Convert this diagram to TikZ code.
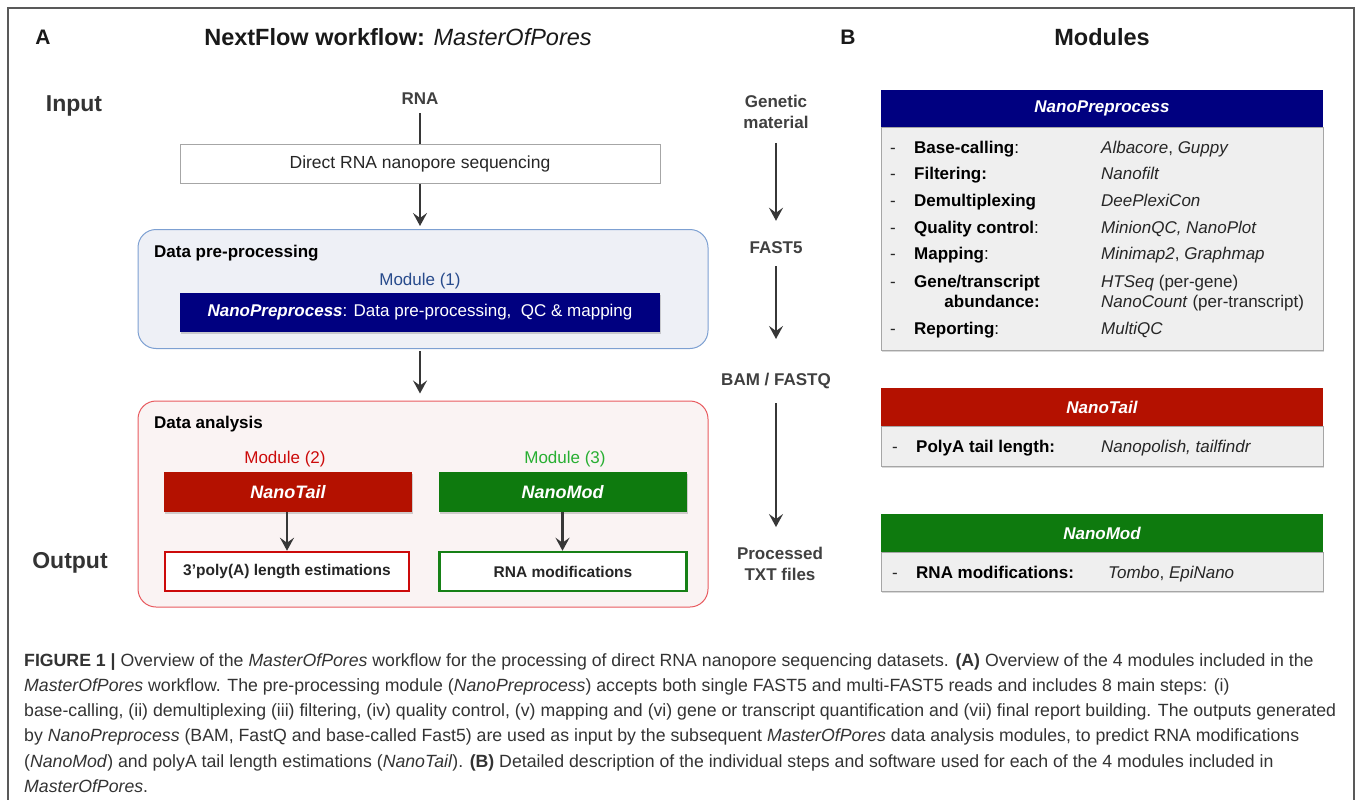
\documentclass[tikz,border=0pt]{standalone}
\usepackage{fontspec}
\setmainfont{Liberation Sans}
\usetikzlibrary{arrows.meta,shadows}

\definecolor{navyhead}{RGB}{0,0,128}
\definecolor{tailred}{RGB}{180,17,0}
\definecolor{modgreen}{RGB}{14,122,14}
\definecolor{outred}{RGB}{204,10,10}
\definecolor{outgreen}{RGB}{22,128,22}
\definecolor{modblue}{RGB}{40,75,140}
\definecolor{modlgreen}{RGB}{40,175,50}
\definecolor{prefill}{RGB}{238,240,246}
\definecolor{preline}{RGB}{125,160,210}
\definecolor{anafill}{RGB}{250,243,243}
\definecolor{analine}{RGB}{232,90,95}
\definecolor{bodyfill}{RGB}{239,239,239}
\definecolor{txtgray}{RGB}{55,55,55}

\newcommand{\fs}[2]{\fontsize{#1}{#2}\selectfont}

\tikzset{
  frame/.style={draw=black!65, line width=1.2pt},
  flow/.style={draw=txtgray, line width=2.5pt, -{Stealth[length=13pt,width=14pt,inset=5pt]}},
  plainline/.style={draw=txtgray, line width=2.5pt},
  paneltag/.style={inner sep=0pt, font=\fs{21}{25}\bfseries, text=black!90},
  title/.style={inner sep=0pt, font=\fs{23.5}{28}\bfseries, text=black!90},
  side/.style={inner sep=0pt, font=\fs{23}{27}\bfseries, text=black!80},
  flowtxt/.style={inner sep=0pt, font=\fs{17}{21}\bfseries, text=black!75, align=center},
  seqbox/.style={draw=black!35, fill=white, line width=0.8pt, minimum width=480pt, minimum height=39pt, font=\fs{17.5}{21}, text=black!85},
  grpbox/.style={rounded corners=18pt, line width=1pt},
  grptitle/.style={inner sep=0pt, anchor=west, font=\fs{17}{21}\bfseries, text=black},
  modtxt/.style={inner sep=0pt, font=\fs{17}{21}},
  navybox/.style={fill=navyhead, text=white, minimum width=480pt, minimum height=39pt, font=\fs{17}{21}, drop shadow={shadow xshift=1pt, shadow yshift=-1.5pt, opacity=0.35}},
  colbox/.style={text=white, minimum width=248pt, minimum height=40pt, font=\fs{18}{21}\bfseries\itshape, drop shadow={shadow xshift=1pt, shadow yshift=-1.5pt, opacity=0.35}},
  outbox/.style={fill=white, line width=2.5pt, minimum width=244pt, minimum height=39pt, font=\fs{15.5}{19}\bfseries, text=black!85},
  cardhead/.style={text=white, minimum width=442pt, minimum height=37pt, font=\fs{17}{21}\bfseries\itshape},
  cardbody/.style={draw=black!35, fill=bodyfill, minimum width=442pt, drop shadow={shadow xshift=1pt, shadow yshift=-1.5pt, opacity=0.3}},
  rowdash/.style={inner sep=0pt, anchor=base west, font=\fs{17}{20}, text=black!85},
  rowlab/.style={inner sep=0pt, anchor=base west, font=\fs{17}{20}, text=black},
  rowval/.style={inner sep=0pt, anchor=base west, font=\fs{17}{20}, text=black!85, align=left},
  caption/.style={inner sep=0pt, anchor=north west, align=left, font=\fs{17.7}{25.3}, text=black!80}
}

\begin{document}
\begin{tikzpicture}[x=1pt,y=-1pt]
\useasboundingbox (0,0) rectangle (1358,800);
% outer frame
\draw[frame] (8,801) -- (8,8) -- (1354,8) -- (1354,801);

% Panel A
\node[paneltag] (tagA) at (43,37) {A};
\node[title] (titleA) at (398,37) {NextFlow workflow: {\mdseries\itshape MasterOfPores}};
\node[side] (input) at (74,106) {Input};
\node[side] (output) at (70,563) {Output};

\node[flowtxt] (rna) at (420,99) {RNA};
\node[seqbox] (seq) at (420,164) {Direct RNA nanopore sequencing};
\draw[plainline, shorten <=8pt] (rna) -- (seq);

% data pre-processing
\node[grpbox, draw=preline, fill=prefill, minimum width=570pt, minimum height=119pt] (pre) at (423,289) {};
\node[grptitle] (pretitle) at (154,253) {Data pre-processing};
\node[modtxt, text=modblue] (mod1) at (420,281) {Module (1)};
\node[navybox] (preproc) at (420,312.5) {\textbf{\textit{NanoPreprocess}}: Data pre-processing,\ \ QC \& mapping};
\draw[flow, shorten >=3pt] (seq) -- (pre.north -| seq);

% data analysis
\node[grpbox, draw=analine, fill=anafill, minimum width=570pt, minimum height=206pt] (ana) at (423,504) {};
\node[grptitle] (anatitle) at (154,424) {Data analysis};
\draw[flow, shorten <=2pt, shorten >=7pt] (pre.south -| seq) -- (ana.north -| seq);

\node[modtxt, text=outred] (mod2) at (285,459) {Module (2)};
\node[modtxt, text=modlgreen] (mod3) at (565,459) {Module (3)};
\node[colbox, fill=tailred] (tail) at (288,492) {NanoTail};
\node[colbox, fill=modgreen] (mod) at (562.5,492) {NanoMod};
\node[outbox, draw=outred] (tailout) at (287,571.5) {3’poly(A) length estimations};
\node[outbox, draw=outgreen, minimum width=247pt] (modout) at (563,571.5) {RNA modifications};
\draw[flow] (tail.south -| tailout) -- (tailout);
\draw[flow] (mod) -- (modout.north -| mod);

% middle column: data types
\node[flowtxt] (gen) at (776,112) {Genetic\\material};
\node[flowtxt] (fast5) at (776,248) {FAST5};
\node[flowtxt] (bam) at (776,381) {BAM / FASTQ};
\node[flowtxt] (txt) at (780,564) {Processed\\TXT files};
\draw[flow, shorten <=14pt, shorten >=21pt] (gen) -- (fast5);
\draw[flow, shorten <=12pt, shorten >=34pt] (fast5) -- (bam);
\draw[flow, shorten <=14pt, shorten >=20pt] (bam) -- (txt.north -| bam);

% Panel B
\node[paneltag] (tagB) at (848,37) {B};
\node[title] (titleB) at (1102,37) {Modules};

% NanoPreprocess card
\node[cardbody, minimum height=223pt] (prebody) at (1102,238.5) {};
\node[cardhead, fill=navyhead] (prehead) at (1102,108.5) {NanoPreprocess};
\node[rowdash] (d1) at (890,153) {-};
\node[rowlab] (l1) at (914,153) {\textbf{Base-calling}:};
\node[rowval] (v1) at (1101,153) {\textit{Albacore}, \textit{Guppy}};
\node[rowdash] (d2) at (890,179) {-};
\node[rowlab] (l2) at (914,179) {\textbf{Filtering:}};
\node[rowval] (v2) at (1101,179) {\textit{Nanofilt}};
\node[rowdash] (d3) at (890,206) {-};
\node[rowlab] (l3) at (914,206) {\textbf{Demultiplexing}};
\node[rowval] (v3) at (1101,206) {\textit{DeePlexiCon}};
\node[rowdash] (d4) at (890,233) {-};
\node[rowlab] (l4) at (914,233) {\textbf{Quality control}:};
\node[rowval] (v4) at (1101,233) {\textit{MinionQC, NanoPlot}};
\node[rowdash] (d5) at (890,259) {-};
\node[rowlab] (l5) at (914,259) {\textbf{Mapping}:};
\node[rowval] (v5) at (1101,259) {\textit{Minimap2}, \textit{Graphmap}};
\node[rowdash] (d6) at (890,287) {-};
% two-line rows sit on the baseline of their last line
\node[rowlab, align=right] (l6) at (914,307) {\textbf{Gene/transcript}\\\textbf{abundance:}};
\node[rowval] (v6) at (1101,307) {\textit{HTSeq} (per-gene)\\\textit{NanoCount} (per-transcript)};
\node[rowdash] (d7) at (890,334) {-};
\node[rowlab] (l7) at (914,334) {\textbf{Reporting}:};
\node[rowval] (v7) at (1101,334) {\textit{MultiQC}};

% NanoTail card
\node[cardbody, minimum height=40pt] (tailbody) at (1102,446) {};
\node[cardhead, fill=tailred, minimum height=38pt] (tailhead) at (1102,407) {NanoTail};
\node[rowdash] (d8) at (892,452) {-};
\node[rowlab] (l8) at (916,452) {\textbf{PolyA tail length:}};
\node[rowval] (v8) at (1101,452) {\textit{Nanopolish, tailfindr}};

% NanoMod card
\node[cardbody, minimum height=39pt] (modbody) at (1102,571.5) {};
\node[cardhead, fill=modgreen, minimum height=38pt] (modhead) at (1102,533) {NanoMod};
\node[rowdash] (d9) at (892,578) {-};
\node[rowlab] (l9) at (916,578) {\textbf{RNA modifications:}};
\node[rowval] (v9) at (1108,578) {\textit{Tombo}, \textit{EpiNano}};

% caption
\node[caption] (cap) at (24,653) {\textbf{FIGURE 1 |} Overview of the \textit{MasterOfPores} workflow for the processing of direct RNA nanopore sequencing datasets. \textbf{(A)} Overview of the 4 modules included in the\\
\textit{MasterOfPores} workflow. The pre-processing module (\textit{NanoPreprocess}) accepts both single FAST5 and multi-FAST5 reads and includes 8 main steps: (i)\\
base-calling, (ii) demultiplexing (iii) filtering, (iv) quality control, (v) mapping and (vi) gene or transcript quantification and (vii) final report building. The outputs generated\\
by \textit{NanoPreprocess} (BAM, FastQ and base-called Fast5) are used as input by the subsequent \textit{MasterOfPores} data analysis modules, to predict RNA modifications\\
(\textit{NanoMod}) and polyA tail length estimations (\textit{NanoTail}). \textbf{(B)} Detailed description of the individual steps and software used for each of the 4 modules included in\\
\textit{MasterOfPores}.};
\end{tikzpicture}
\end{document}
